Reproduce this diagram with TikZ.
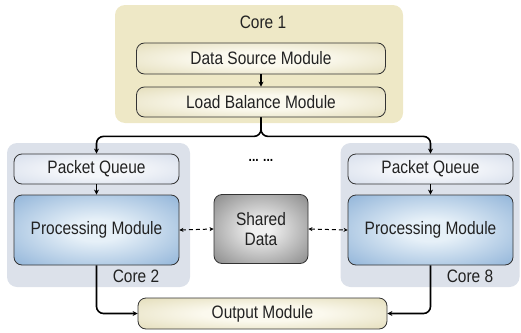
\documentclass[tikz,border=0pt]{standalone}
\usepackage{fontspec}
\setmainfont[FakeStretch=0.86]{Liberation Sans}
\usetikzlibrary{arrows.meta}
\definecolor{tanbg}{HTML}{EEE8C6}
\definecolor{tanedge}{HTML}{D6CD9C}
\definecolor{tanmid}{HTML}{FBF9EE}
\definecolor{corebg}{HTML}{DCE1EA}
\definecolor{pqedge}{HTML}{C5D0E3}
\definecolor{pqmid}{HTML}{F4F6FA}
\definecolor{pmedge}{HTML}{6696C9}
\definecolor{pmmid}{HTML}{E6F0F8}
\definecolor{sdedge}{HTML}{5A5A5A}
\definecolor{sdmid}{HTML}{F0F0F0}
\definecolor{txt}{HTML}{222222}
\pgfdeclareradialshading{tanshade}{\pgfpoint{0bp}{0bp}}{color(0bp)=(tanmid); color(12bp)=(tanmid); color(50bp)=(tanedge)}
\pgfdeclareradialshading{pqshade}{\pgfpoint{0bp}{0bp}}{color(0bp)=(pqmid); color(12bp)=(pqmid); color(50bp)=(pqedge)}
\pgfdeclareradialshading{pmshade}{\pgfpoint{0bp}{0bp}}{color(0bp)=(pmmid); color(8bp)=(pmmid); color(50bp)=(pmedge)}
\pgfdeclareradialshading{sdshade}{\pgfpoint{0bp}{0bp}}{color(0bp)=(sdmid); color(5bp)=(sdmid); color(50bp)=(sdedge)}
\tikzset{
  bg/.style={rounded corners=10pt, inner sep=0pt, draw=none},
  mod/.style={rounded corners=8pt, inner sep=0pt, draw=black!80, line width=0.8pt,
    text=txt, font=\fontsize{18}{20}\selectfont},
  tanmod/.style={mod, shading=tanshade},
  pqmod/.style={mod, shading=pqshade},
  pmmod/.style={mod, shading=pmshade},
  sdmod/.style={mod, shading=sdshade, align=center},
  lbl/.style={text=txt, font=\fontsize{18}{20}\selectfont, inner sep=0pt},
  conn/.style={line width=1.6pt, rounded corners=7pt, -{Stealth[length=5pt,width=5pt]}},
  dconn/.style={line width=1pt, dash pattern=on 4pt off 3pt, {Stealth[length=4pt,width=4pt]}-{Stealth[length=4pt,width=4pt]}},
}
\begin{document}
\begin{tikzpicture}[x=1pt,y=-1pt]
\useasboundingbox (0,0) rectangle (521,332);
% backgrounds
\node[bg, fill=tanbg, minimum width=288pt, minimum height=118pt] (core1bg) at (259,64) {};
\node[bg, fill=corebg, minimum width=183pt, minimum height=144pt] (c2bg) at (98.5,215) {};
\node[bg, fill=corebg, minimum width=179pt, minimum height=144pt] (c8bg) at (430,215) {};
% labels
\node[lbl] (l1) at (263,22) {Core 1};
\node[lbl] (l2) at (136,276) {Core 2};
\node[lbl] (l8) at (470,276) {Core 8};
\node[inner sep=0pt, font=\bfseries\fontsize{14}{14}\selectfont] (dots) at (261,160) {... ...};
% modules
\node[tanmod, minimum width=249pt, minimum height=31pt] (ds) at (261,58.5) {Data Source Module};
\node[tanmod, minimum width=249pt, minimum height=30pt] (lb) at (261,102) {Load Balance Module};
\node[pqmod, minimum width=165pt, minimum height=30pt] (pq1) at (96.5,169) {Packet Queue};
\node[pmmod, minimum width=165pt, minimum height=70pt] (pm1) at (96.5,230) {Processing Module};
\node[pqmod, minimum width=165pt, minimum height=30pt] (pq2) at (430.5,169) {Packet Queue};
\node[pmmod, minimum width=165pt, minimum height=70pt] (pm2) at (430.5,230) {Processing Module};
\node[sdmod, minimum width=94pt, minimum height=69pt] (sd) at (261,229) {Shared\\Data};
\node[tanmod, minimum width=249pt, minimum height=31pt] (out) at (262.5,313.5) {Output Module};
% connectors
\draw[conn] (ds.south) -- (lb.north);
\draw[conn] (lb.south) -- ++(0,19) -| (pq1.north);
\draw[conn] (lb.south) -- ++(0,19) -| (pq2.north);
\draw[conn] (pq1.south) -- (pm1.north);
\draw[conn] (pq2.south) -- (pm2.north);
\draw[dconn] (pm1.east) -- (sd.west);
\draw[dconn] (sd.east) -- (pm2.west);
\draw[conn] (pm1.south) |- (out.west);
\draw[conn] (pm2.south) |- (out.east);
\end{tikzpicture}
\end{document}
